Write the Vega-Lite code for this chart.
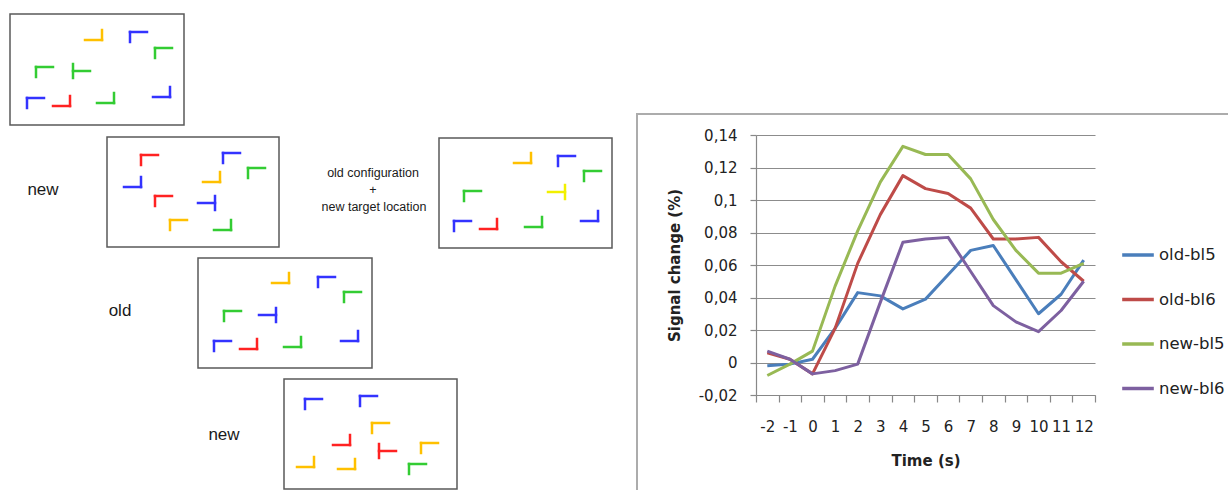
{
  "$schema": "https://vega.github.io/schema/vega-lite/v6.json",
  "autosize": {"type": "none"},
  "padding": {"left": 756, "top": 135, "right": 133, "bottom": 95},
  "width": 339,
  "height": 260,
  "background": "white",
  "config": {"view": {"stroke": null}, "font": "DejaVu Sans"},
  "datasets": {
    "boxes": [
      {"panel": "A", "x": 10, "y": 14, "x2": 184, "y2": 125},
      {"panel": "B", "x": 107, "y": 137, "x2": 279, "y2": 247},
      {"panel": "C", "x": 198, "y": 258, "x2": 372, "y2": 368},
      {"panel": "D", "x": 284, "y": 379, "x2": 457, "y2": 489},
      {"panel": "E", "x": 439, "y": 138, "x2": 612, "y2": 248}
    ],
    "frame": [{"x": 637, "y": 114, "x2": 1240, "y2": 500}],
    "segments": [
      {"shape": "A1", "col": "gold", "x": 85, "y": 40, "x2": 102, "y2": 40},
      {"shape": "A1", "col": "gold", "x": 102, "y": 30, "x2": 102, "y2": 40},
      {"shape": "A2", "col": "blue", "x": 130, "y": 32, "x2": 147, "y2": 32},
      {"shape": "A2", "col": "blue", "x": 130, "y": 32, "x2": 130, "y2": 42},
      {"shape": "A3", "col": "green", "x": 155, "y": 48, "x2": 172, "y2": 48},
      {"shape": "A3", "col": "green", "x": 155, "y": 48, "x2": 155, "y2": 58},
      {"shape": "A4", "col": "green", "x": 36, "y": 67, "x2": 53, "y2": 67},
      {"shape": "A4", "col": "green", "x": 36, "y": 67, "x2": 36, "y2": 77},
      {"shape": "A5", "col": "green", "x": 73, "y": 64, "x2": 73, "y2": 78},
      {"shape": "A5", "col": "green", "x": 73, "y": 71, "x2": 90, "y2": 71},
      {"shape": "A6", "col": "blue", "x": 27, "y": 98, "x2": 44, "y2": 98},
      {"shape": "A6", "col": "blue", "x": 27, "y": 98, "x2": 27, "y2": 108},
      {"shape": "A7", "col": "red", "x": 53, "y": 106, "x2": 70, "y2": 106},
      {"shape": "A7", "col": "red", "x": 70, "y": 96, "x2": 70, "y2": 106},
      {"shape": "A8", "col": "green", "x": 97, "y": 103, "x2": 114, "y2": 103},
      {"shape": "A8", "col": "green", "x": 114, "y": 93, "x2": 114, "y2": 103},
      {"shape": "A9", "col": "blue", "x": 153, "y": 97, "x2": 170, "y2": 97},
      {"shape": "A9", "col": "blue", "x": 170, "y": 87, "x2": 170, "y2": 97},
      {"shape": "B1", "col": "red", "x": 141, "y": 155, "x2": 158, "y2": 155},
      {"shape": "B1", "col": "red", "x": 141, "y": 155, "x2": 141, "y2": 165},
      {"shape": "B2", "col": "blue", "x": 223, "y": 153, "x2": 240, "y2": 153},
      {"shape": "B2", "col": "blue", "x": 223, "y": 153, "x2": 223, "y2": 163},
      {"shape": "B3", "col": "green", "x": 248, "y": 168, "x2": 265, "y2": 168},
      {"shape": "B3", "col": "green", "x": 248, "y": 168, "x2": 248, "y2": 178},
      {"shape": "B4", "col": "blue", "x": 124, "y": 187, "x2": 141, "y2": 187},
      {"shape": "B4", "col": "blue", "x": 141, "y": 177, "x2": 141, "y2": 187},
      {"shape": "B5", "col": "gold", "x": 203, "y": 182, "x2": 220, "y2": 182},
      {"shape": "B5", "col": "gold", "x": 220, "y": 172, "x2": 220, "y2": 182},
      {"shape": "B6", "col": "red", "x": 155, "y": 196, "x2": 172, "y2": 196},
      {"shape": "B6", "col": "red", "x": 155, "y": 196, "x2": 155, "y2": 206},
      {"shape": "B7", "col": "blue", "x": 198, "y": 203, "x2": 215, "y2": 203},
      {"shape": "B7", "col": "blue", "x": 215, "y": 196, "x2": 215, "y2": 210},
      {"shape": "B8", "col": "gold", "x": 170, "y": 220, "x2": 187, "y2": 220},
      {"shape": "B8", "col": "gold", "x": 170, "y": 220, "x2": 170, "y2": 230},
      {"shape": "B9", "col": "green", "x": 214, "y": 230, "x2": 231, "y2": 230},
      {"shape": "B9", "col": "green", "x": 231, "y": 220, "x2": 231, "y2": 230},
      {"shape": "C1", "col": "gold", "x": 272, "y": 283, "x2": 289, "y2": 283},
      {"shape": "C1", "col": "gold", "x": 289, "y": 273, "x2": 289, "y2": 283},
      {"shape": "C2", "col": "blue", "x": 318, "y": 277, "x2": 335, "y2": 277},
      {"shape": "C2", "col": "blue", "x": 318, "y": 277, "x2": 318, "y2": 287},
      {"shape": "C3", "col": "green", "x": 344, "y": 292, "x2": 361, "y2": 292},
      {"shape": "C3", "col": "green", "x": 344, "y": 292, "x2": 344, "y2": 302},
      {"shape": "C4", "col": "green", "x": 224, "y": 311, "x2": 241, "y2": 311},
      {"shape": "C4", "col": "green", "x": 224, "y": 311, "x2": 224, "y2": 321},
      {"shape": "C5", "col": "blue", "x": 259, "y": 315, "x2": 276, "y2": 315},
      {"shape": "C5", "col": "blue", "x": 276, "y": 308, "x2": 276, "y2": 322},
      {"shape": "C6", "col": "blue", "x": 214, "y": 341, "x2": 231, "y2": 341},
      {"shape": "C6", "col": "blue", "x": 214, "y": 341, "x2": 214, "y2": 351},
      {"shape": "C7", "col": "red", "x": 240, "y": 349, "x2": 257, "y2": 349},
      {"shape": "C7", "col": "red", "x": 257, "y": 339, "x2": 257, "y2": 349},
      {"shape": "C8", "col": "green", "x": 284, "y": 347, "x2": 301, "y2": 347},
      {"shape": "C8", "col": "green", "x": 301, "y": 337, "x2": 301, "y2": 347},
      {"shape": "C9", "col": "blue", "x": 341, "y": 341, "x2": 358, "y2": 341},
      {"shape": "C9", "col": "blue", "x": 358, "y": 331, "x2": 358, "y2": 341},
      {"shape": "D1", "col": "blue", "x": 305, "y": 399, "x2": 322, "y2": 399},
      {"shape": "D1", "col": "blue", "x": 305, "y": 399, "x2": 305, "y2": 409},
      {"shape": "D2", "col": "blue", "x": 360, "y": 396, "x2": 377, "y2": 396},
      {"shape": "D2", "col": "blue", "x": 360, "y": 396, "x2": 360, "y2": 406},
      {"shape": "D3", "col": "gold", "x": 372, "y": 423, "x2": 389, "y2": 423},
      {"shape": "D3", "col": "gold", "x": 372, "y": 423, "x2": 372, "y2": 433},
      {"shape": "D4", "col": "red", "x": 333, "y": 445, "x2": 350, "y2": 445},
      {"shape": "D4", "col": "red", "x": 350, "y": 435, "x2": 350, "y2": 445},
      {"shape": "D5", "col": "red", "x": 379, "y": 444, "x2": 379, "y2": 458},
      {"shape": "D5", "col": "red", "x": 379, "y": 451, "x2": 396, "y2": 451},
      {"shape": "D6", "col": "gold", "x": 421, "y": 443, "x2": 438, "y2": 443},
      {"shape": "D6", "col": "gold", "x": 421, "y": 443, "x2": 421, "y2": 453},
      {"shape": "D7", "col": "gold", "x": 297, "y": 467, "x2": 314, "y2": 467},
      {"shape": "D7", "col": "gold", "x": 314, "y": 457, "x2": 314, "y2": 467},
      {"shape": "D8", "col": "gold", "x": 338, "y": 469, "x2": 355, "y2": 469},
      {"shape": "D8", "col": "gold", "x": 355, "y": 459, "x2": 355, "y2": 469},
      {"shape": "D9", "col": "green", "x": 409, "y": 464, "x2": 426, "y2": 464},
      {"shape": "D9", "col": "green", "x": 409, "y": 464, "x2": 409, "y2": 474},
      {"shape": "E1", "col": "gold", "x": 514, "y": 163, "x2": 531, "y2": 163},
      {"shape": "E1", "col": "gold", "x": 531, "y": 153, "x2": 531, "y2": 163},
      {"shape": "E2", "col": "blue", "x": 558, "y": 156, "x2": 575, "y2": 156},
      {"shape": "E2", "col": "blue", "x": 558, "y": 156, "x2": 558, "y2": 166},
      {"shape": "E3", "col": "green", "x": 584, "y": 171, "x2": 601, "y2": 171},
      {"shape": "E3", "col": "green", "x": 584, "y": 171, "x2": 584, "y2": 181},
      {"shape": "E4", "col": "green", "x": 464, "y": 191, "x2": 481, "y2": 191},
      {"shape": "E4", "col": "green", "x": 464, "y": 191, "x2": 464, "y2": 201},
      {"shape": "E5", "col": "yellow", "x": 548, "y": 192, "x2": 565, "y2": 192},
      {"shape": "E5", "col": "yellow", "x": 565, "y": 185, "x2": 565, "y2": 199},
      {"shape": "E6", "col": "blue", "x": 454, "y": 221, "x2": 471, "y2": 221},
      {"shape": "E6", "col": "blue", "x": 454, "y": 221, "x2": 454, "y2": 231},
      {"shape": "E7", "col": "red", "x": 480, "y": 229, "x2": 497, "y2": 229},
      {"shape": "E7", "col": "red", "x": 497, "y": 219, "x2": 497, "y2": 229},
      {"shape": "E8", "col": "green", "x": 525, "y": 227, "x2": 542, "y2": 227},
      {"shape": "E8", "col": "green", "x": 542, "y": 217, "x2": 542, "y2": 227},
      {"shape": "E9", "col": "blue", "x": 581, "y": 221, "x2": 598, "y2": 221},
      {"shape": "E9", "col": "blue", "x": 598, "y": 211, "x2": 598, "y2": 221}
    ],
    "labels": [
      {"x": 43, "y": 190, "text": "new"},
      {"x": 120, "y": 311, "text": "old"},
      {"x": 224, "y": 435, "text": "new"}
    ],
    "caption": [
      {"x": 373, "y": 173, "text": "old configuration"},
      {"x": 373, "y": 190, "text": "+"},
      {"x": 374, "y": 207, "text": "new target location"}
    ],
    "signal": [
      {"t": -2, "series": "old-bl5", "v": -0.002},
      {"t": -1, "series": "old-bl5", "v": -0.001},
      {"t": 0, "series": "old-bl5", "v": 0.002},
      {"t": 1, "series": "old-bl5", "v": 0.021},
      {"t": 2, "series": "old-bl5", "v": 0.043},
      {"t": 3, "series": "old-bl5", "v": 0.041},
      {"t": 4, "series": "old-bl5", "v": 0.033},
      {"t": 5, "series": "old-bl5", "v": 0.039},
      {"t": 6, "series": "old-bl5", "v": 0.054},
      {"t": 7, "series": "old-bl5", "v": 0.069},
      {"t": 8, "series": "old-bl5", "v": 0.072},
      {"t": 9, "series": "old-bl5", "v": 0.051},
      {"t": 10, "series": "old-bl5", "v": 0.030},
      {"t": 11, "series": "old-bl5", "v": 0.042},
      {"t": 12, "series": "old-bl5", "v": 0.063},
      {"t": -2, "series": "old-bl6", "v": 0.006},
      {"t": -1, "series": "old-bl6", "v": 0.002},
      {"t": 0, "series": "old-bl6", "v": -0.007},
      {"t": 1, "series": "old-bl6", "v": 0.021},
      {"t": 2, "series": "old-bl6", "v": 0.061},
      {"t": 3, "series": "old-bl6", "v": 0.091},
      {"t": 4, "series": "old-bl6", "v": 0.115},
      {"t": 5, "series": "old-bl6", "v": 0.107},
      {"t": 6, "series": "old-bl6", "v": 0.104},
      {"t": 7, "series": "old-bl6", "v": 0.095},
      {"t": 8, "series": "old-bl6", "v": 0.076},
      {"t": 9, "series": "old-bl6", "v": 0.076},
      {"t": 10, "series": "old-bl6", "v": 0.077},
      {"t": 11, "series": "old-bl6", "v": 0.062},
      {"t": 12, "series": "old-bl6", "v": 0.050},
      {"t": -2, "series": "new-bl5", "v": -0.008},
      {"t": -1, "series": "new-bl5", "v": -0.001},
      {"t": 0, "series": "new-bl5", "v": 0.007},
      {"t": 1, "series": "new-bl5", "v": 0.047},
      {"t": 2, "series": "new-bl5", "v": 0.081},
      {"t": 3, "series": "new-bl5", "v": 0.111},
      {"t": 4, "series": "new-bl5", "v": 0.133},
      {"t": 5, "series": "new-bl5", "v": 0.128},
      {"t": 6, "series": "new-bl5", "v": 0.128},
      {"t": 7, "series": "new-bl5", "v": 0.113},
      {"t": 8, "series": "new-bl5", "v": 0.088},
      {"t": 9, "series": "new-bl5", "v": 0.069},
      {"t": 10, "series": "new-bl5", "v": 0.055},
      {"t": 11, "series": "new-bl5", "v": 0.055},
      {"t": 12, "series": "new-bl5", "v": 0.061},
      {"t": -2, "series": "new-bl6", "v": 0.007},
      {"t": -1, "series": "new-bl6", "v": 0.002},
      {"t": 0, "series": "new-bl6", "v": -0.007},
      {"t": 1, "series": "new-bl6", "v": -0.005},
      {"t": 2, "series": "new-bl6", "v": -0.001},
      {"t": 3, "series": "new-bl6", "v": 0.037},
      {"t": 4, "series": "new-bl6", "v": 0.074},
      {"t": 5, "series": "new-bl6", "v": 0.076},
      {"t": 6, "series": "new-bl6", "v": 0.077},
      {"t": 7, "series": "new-bl6", "v": 0.056},
      {"t": 8, "series": "new-bl6", "v": 0.035},
      {"t": 9, "series": "new-bl6", "v": 0.025},
      {"t": 10, "series": "new-bl6", "v": 0.019},
      {"t": 11, "series": "new-bl6", "v": 0.032},
      {"t": 12, "series": "new-bl6", "v": 0.050}
    ]
  },
  "layer": [
    {
      "layer": [
        {
          "data": {"name": "frame"},
          "mark": {"type": "rect", "fillOpacity": 0, "stroke": "#acacac", "strokeWidth": 2},
          "encoding": {
            "x": {"field": "x", "type": "quantitative", "scale": {"domain": [0, 1228], "range": [-756, 472]}, "axis": null},
            "x2": {"field": "x2"},
            "y": {"field": "y", "type": "quantitative", "scale": {"domain": [0, 490], "range": [-135, 355]}, "axis": null},
            "y2": {"field": "y2"}
          }
        },
        {
          "data": {"name": "boxes"},
          "mark": {"type": "rect", "fill": "white", "stroke": "#5a5a5a", "strokeWidth": 1.5},
          "encoding": {
            "x": {"field": "x", "type": "quantitative", "scale": {"domain": [0, 1228], "range": [-756, 472]}, "axis": null},
            "x2": {"field": "x2"},
            "y": {"field": "y", "type": "quantitative", "scale": {"domain": [0, 490], "range": [-135, 355]}, "axis": null},
            "y2": {"field": "y2"}
          }
        },
        {
          "data": {"name": "segments"},
          "mark": {"type": "rule", "strokeWidth": 2.5, "strokeCap": "square"},
          "encoding": {
            "x": {"field": "x", "type": "quantitative", "scale": {"domain": [0, 1228], "range": [-756, 472]}, "axis": null},
            "x2": {"field": "x2"},
            "y": {"field": "y", "type": "quantitative", "scale": {"domain": [0, 490], "range": [-135, 355]}, "axis": null},
            "y2": {"field": "y2"},
            "color": {
              "field": "col", "type": "nominal", "legend": null,
              "scale": {"domain": ["blue", "green", "red", "gold", "yellow"], "range": ["#3333ff", "#33cc33", "#ff2222", "#ffc000", "#f2f000"]}
            }
          }
        },
        {
          "data": {"name": "labels"},
          "mark": {"type": "text", "font": "Liberation Sans", "fontSize": 17, "align": "center", "baseline": "middle", "color": "#1a1a1a"},
          "encoding": {
            "x": {"field": "x", "type": "quantitative", "scale": {"domain": [0, 1228], "range": [-756, 472]}, "axis": null},
            "y": {"field": "y", "type": "quantitative", "scale": {"domain": [0, 490], "range": [-135, 355]}, "axis": null},
            "text": {"field": "text"}
          }
        },
        {
          "data": {"name": "caption"},
          "mark": {"type": "text", "font": "Liberation Sans", "fontSize": 12.5, "align": "center", "baseline": "middle", "color": "#1a1a1a"},
          "encoding": {
            "x": {"field": "x", "type": "quantitative", "scale": {"domain": [0, 1228], "range": [-756, 472]}, "axis": null},
            "y": {"field": "y", "type": "quantitative", "scale": {"domain": [0, 490], "range": [-135, 355]}, "axis": null},
            "text": {"field": "text"}
          }
        }
      ]
    },
    {
      "data": {"name": "signal"},
      "mark": {"type": "line", "strokeWidth": 3, "strokeJoin": "round"},
      "encoding": {
        "x": {
          "field": "t", "type": "ordinal", "sort": [-2, -1, 0, 1, 2, 3, 4, 5, 6, 7, 8, 9, 10, 11, 12],
          "scale": {"type": "band", "paddingInner": 0, "paddingOuter": 0},
          "axis": {
            "orient": "bottom", "title": "Time (s)", "labelAngle": 0, "tickBand": "extent",
            "domainColor": "#888888", "domainWidth": 1.2, "tickColor": "#888888", "tickSize": 7, "tickWidth": 1.2,
            "labelFont": "DejaVu Sans", "labelFontSize": 15, "labelColor": "#222222", "labelPadding": 17,
            "titleFont": "DejaVu Sans", "titleFontSize": 15, "titleFontWeight": "bold", "titleColor": "#222222", "titlePadding": 19,
            "grid": false
          }
        },
        "y": {
          "field": "v", "type": "quantitative",
          "scale": {"domain": [-0.02, 0.14], "nice": false, "zero": false},
          "axis": {
            "orient": "left", "title": "Signal change (%)",
            "values": [-0.02, 0, 0.02, 0.04, 0.06, 0.08, 0.1, 0.12, 0.14],
            "labelExpr": "replace(toString(datum.value), '.', ',')",
            "grid": true, "gridColor": "#8c8c8c", "gridWidth": 1.2,
            "domainColor": "#888888", "domainWidth": 1.2, "tickColor": "#888888", "tickSize": 6, "tickWidth": 1.2,
            "labelFont": "DejaVu Sans", "labelFontSize": 15, "labelColor": "#222222", "labelPadding": 13,
            "titleFont": "DejaVu Sans", "titleFontSize": 15, "titleFontWeight": "bold", "titleColor": "#222222", "titlePadding": 16
          }
        },
        "color": {
          "field": "series", "type": "nominal",
          "scale": {"domain": ["old-bl5", "old-bl6", "new-bl5", "new-bl6"], "range": ["#4a7ebb", "#be4b48", "#98b954", "#7d60a0"]},
          "legend": {
            "title": null, "orient": "none", "legendX": 364, "legendY": 102, "padding": 0,
            "symbolType": "stroke", "symbolSize": 1000, "symbolStrokeWidth": 3.5,
            "labelFont": "DejaVu Sans", "labelFontSize": 16.5, "labelColor": "#222222", "labelOffset": 3,
            "rowPadding": 17.5
          }
        }
      }
    }
  ],
  "resolve": {"scale": {"x": "independent", "y": "independent", "color": "independent"}}
}
